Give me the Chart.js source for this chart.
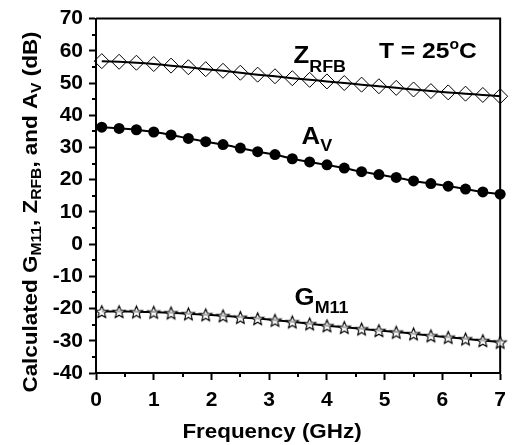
<!DOCTYPE html>
<html>
<head>
<meta charset="utf-8">
<script src="https://cdn.jsdelivr.net/npm/chart.js@4.4.1/dist/chart.umd.min.js"></script>
<style>
  html, body { margin: 0; padding: 0; background: #fff; }
  #wrap { width: 514px; height: 445px; }
</style>
</head>
<body>
<div id="wrap"><canvas id="chart" width="514" height="445"></canvas></div>
<script>
// frequency points (GHz)
const freq = [0.1, 0.4, 0.7, 1.0, 1.3, 1.6, 1.9, 2.2, 2.5, 2.8, 3.1, 3.4,
              3.7, 4.0, 4.3, 4.6, 4.9, 5.2, 5.5, 5.8, 6.1, 6.4, 6.7, 7.0];

// Z_RFB (dB)
const zRfb = [56.8, 56.6, 56.3, 55.9, 55.4, 54.9, 54.3, 53.8, 53.2, 52.6, 52.1, 51.5,
              51.0, 50.5, 50.0, 49.5, 49.0, 48.5, 48.0, 47.5, 47.1, 46.7, 46.3, 45.9];

// A_V (dB)
const aV = [36.3, 35.9, 35.5, 34.8, 33.9, 32.8, 31.8, 30.9, 29.8, 28.7, 27.8, 26.5,
            25.5, 24.6, 23.6, 22.5, 21.6, 20.7, 19.6, 18.8, 18.0, 17.1, 16.2, 15.5];

// G_M11 (dB)
const gM11 = [-20.9, -20.9, -21.0, -21.1, -21.3, -21.6, -21.9, -22.2, -22.7, -23.1, -23.6, -24.1,
              -24.7, -25.3, -25.8, -26.3, -26.8, -27.3, -27.8, -28.4, -28.9, -29.4, -29.9, -30.4];

// axis ranges
const xRange = [0, 7];
const yRange = [-40, 70];

const FONT = '"Liberation Sans", Arial, sans-serif';
const STRETCH = 1.12;

const toXY = (arr) => arr.map((v, i) => ({ x: freq[i], y: v }));

// open five-point star marker
function makeStar(r) {
    const s = Math.ceil(r * 2 + 4);
    const c = document.createElement('canvas');
    c.width = s;
    c.height = s;
    const g = c.getContext('2d');
    g.translate(s / 2, s / 2 + 0.8);
    g.beginPath();
    for (let i = 0; i < 10; i++) {
        const rr = i % 2 ? r * 0.45 : r;
        const a = -Math.PI / 2 + i * Math.PI / 5;
        g.lineTo(rr * Math.cos(a), rr * Math.sin(a));
    }
    g.closePath();
    g.fillStyle = 'rgba(255,255,255,0.7)';
    g.fill();
    g.strokeStyle = '#000';
    g.lineWidth = 1.1;
    g.stroke();
    return c;
}

// text with sub/superscripts, slightly widened like the original
function drawRich(ctx, x, y, parts) {
    ctx.save();
    ctx.translate(x, y);
    ctx.scale(STRETCH, 1);
    ctx.fillStyle = '#000';
    ctx.textAlign = 'left';
    ctx.textBaseline = 'alphabetic';
    let cx = 0;
    parts.forEach(p => {
        ctx.font = `bold ${p.size}px ${FONT}`;
        ctx.fillText(p.t, cx, p.dy || 0);
        cx += ctx.measureText(p.t).width;
    });
    ctx.restore();
}

function richWidth(ctx, parts) {
    let w = 0;
    parts.forEach(p => {
        ctx.font = `bold ${p.size}px ${FONT}`;
        w += ctx.measureText(p.t).width;
    });
    return w * STRETCH;
}

const labels = [
    { x: 3.42, y: 56.2, parts: [{ t: 'Z', size: 23 }, { t: 'RFB', size: 16, dy: 9 }] },
    { x: 4.9, y: 57.7, parts: [{ t: 'T = 25', size: 22 }, { t: 'o', size: 14, dy: -9 }, { t: 'C', size: 22 }] },
    { x: 3.56, y: 31.1, parts: [{ t: 'A', size: 23 }, { t: 'V', size: 16, dy: 7 }] },
    { x: 3.44, y: -19.0, parts: [{ t: 'G', size: 23 }, { t: 'M11', size: 16, dy: 8 }] }
];

const frame = {
    id: 'frame',
    beforeDatasetsDraw(chart) {
        const { ctx, chartArea: a, scales } = chart;
        ctx.save();
        ctx.strokeStyle = '#000';
        ctx.lineWidth = 2;
        ctx.beginPath();
        ctx.moveTo(a.left, a.top);
        ctx.lineTo(a.right, a.top);
        ctx.lineTo(a.right, a.bottom);
        ctx.stroke();
        // minor ticks
        ctx.beginPath();
        for (let v = yRange[0] + 5; v < yRange[1]; v += 10) {
            const py = Math.round(scales.y.getPixelForValue(v));
            ctx.moveTo(a.left, py);
            ctx.lineTo(a.left - 4, py);
        }
        for (let v = xRange[0] + 0.5; v < xRange[1]; v += 1) {
            const px = Math.round(scales.x.getPixelForValue(v));
            ctx.moveTo(px, a.bottom);
            ctx.lineTo(px, a.bottom + 4);
        }
        ctx.stroke();
        ctx.restore();
    },
    afterDraw(chart) {
        const { ctx, scales } = chart;
        labels.forEach(l => {
            drawRich(ctx, scales.x.getPixelForValue(l.x), scales.y.getPixelForValue(l.y), l.parts);
        });
        // x title
        const xt = [{ t: 'Frequency (GHz)', size: 20 }];
        drawRich(ctx, 272 - richWidth(ctx, xt) / 2, 438, xt);
        // y title (rotated)
        const yt = [
            { t: 'Calculated G', size: 20 }, { t: 'M11', size: 14, dy: 4 },
            { t: ', Z', size: 20 }, { t: 'RFB', size: 14, dy: 4 },
            { t: ', and A', size: 20 }, { t: 'V', size: 14, dy: 4 },
            { t: ' (dB)', size: 20 }
        ];
        ctx.save();
        ctx.translate(37, 212);
        ctx.rotate(-Math.PI / 2);
        drawRich(ctx, -richWidth(ctx, yt) / 2, 0, yt);
        ctx.restore();
    }
};

const lineStyle = {
    borderColor: '#000',
    borderWidth: 2,
    showLine: true,
    tension: 0.3,
    clip: false
};

new Chart(document.getElementById('chart'), {
    type: 'scatter',
    data: {
        datasets: [
            {
                ...lineStyle,
                label: 'Z_RFB',
                data: toXY(zRfb),
                pointStyle: 'rectRot',
                pointRadius: 7.5,
                pointBorderWidth: 1,
                pointBorderColor: '#000',
                pointBackgroundColor: 'rgba(255,255,255,0)'
            },
            {
                ...lineStyle,
                label: 'A_V',
                data: toXY(aV),
                pointStyle: 'circle',
                pointRadius: 5.5,
                pointBorderWidth: 0,
                pointBackgroundColor: '#000'
            },
            {
                ...lineStyle,
                label: 'G_M11',
                data: toXY(gM11),
                pointStyle: makeStar(6.5),
                pointRadius: 7
            }
        ]
    },
    options: {
        responsive: false,
        animation: false,
        layout: { padding: { left: 0, top: 17, right: 7, bottom: 0 } },
        plugins: {
            legend: { display: false },
            tooltip: { enabled: false }
        },
        scales: {
            x: {
                type: 'linear',
                min: xRange[0],
                max: xRange[1],
                afterFit: (s) => { s.height = 72; },
                ticks: {
                    stepSize: 1,
                    color: '#000',
                    padding: 8,
                    font: { family: FONT, size: 21, weight: 'bold' }
                },
                grid: {
                    drawOnChartArea: false,
                    tickLength: 7,
                    tickWidth: 2,
                    tickColor: '#000'
                },
                border: { color: '#000', width: 2 }
            },
            y: {
                min: yRange[0],
                max: yRange[1],
                afterFit: (s) => { s.width = 96; },
                ticks: {
                    stepSize: 10,
                    color: '#000',
                    padding: 6,
                    font: { family: FONT, size: 21, weight: 'bold' }
                },
                grid: {
                    drawOnChartArea: false,
                    tickLength: 7,
                    tickWidth: 2,
                    tickColor: '#000'
                },
                border: { color: '#000', width: 2 }
            }
        }
    },
    plugins: [frame]
});
</script>
</body>
</html>
